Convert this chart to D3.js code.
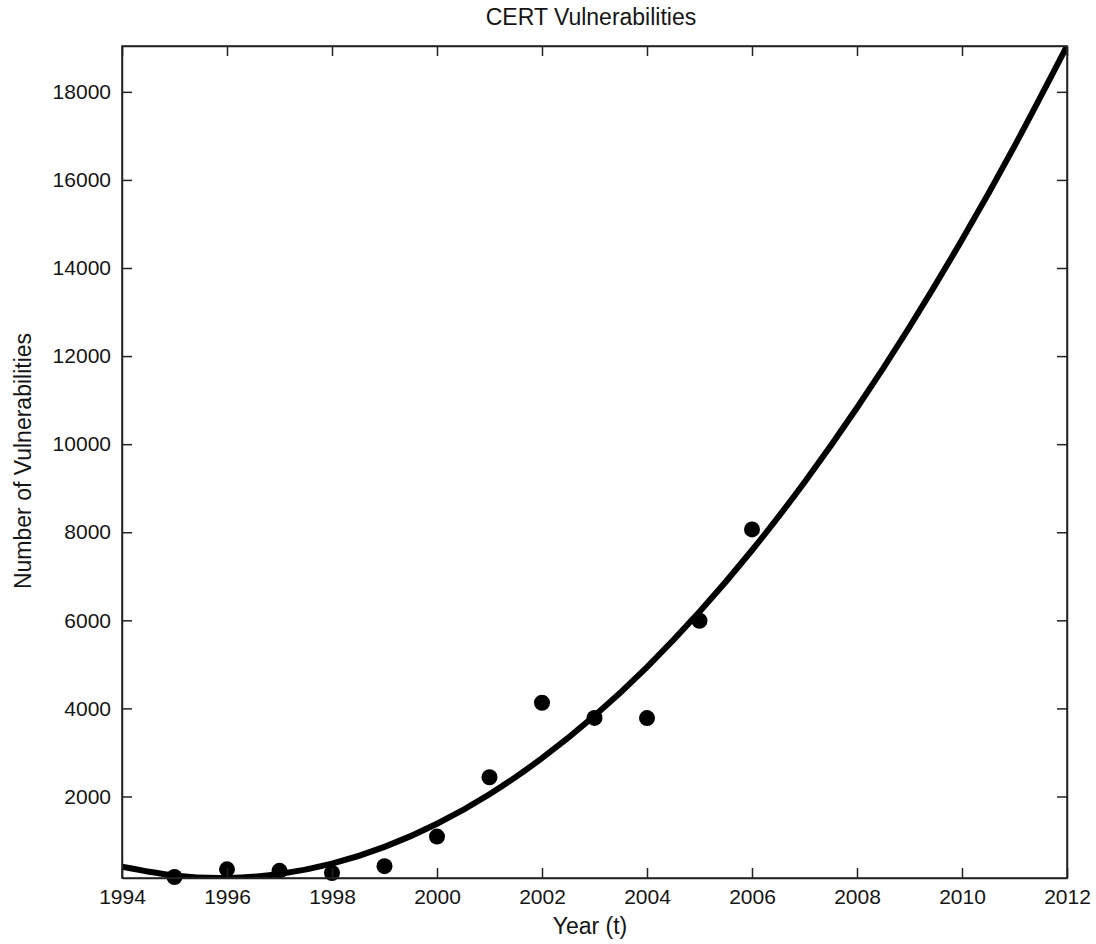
<!DOCTYPE html>
<html>
<head>
<meta charset="utf-8">
<script src="https://cdn.jsdelivr.net/npm/d3@7"></script>
<style>
  body { margin: 0; background: #fff; }
  text { font-family: "Liberation Sans", Arial, sans-serif; fill: #151515; }
</style>
</head>
<body>
<div class="container"></div>
<script>
// CERT vulnerability counts per year
var years = [1995, 1996, 1997, 1998, 1999, 2000, 2001, 2002, 2003, 2004, 2005, 2006];
var counts = [171, 345, 311, 262, 417, 1090, 2437, 4129, 3784, 3780, 5990, 8064];

// fitted curve at each year
var fitYears = [1994, 1995, 1996, 1997, 1998, 1999, 2000, 2001, 2002, 2003,
                2004, 2005, 2006, 2007, 2008, 2009, 2010, 2011, 2012];
var fitValues = [408, 207, 150, 240, 474, 855, 1380, 2052, 2869, 3831,
                 4939, 6192, 7591, 9136, 10826, 12661, 14642, 16769, 19041];

var xTicks = [1994, 1996, 1998, 2000, 2002, 2004, 2006, 2008, 2010, 2012];
var yTicks = [2000, 4000, 6000, 8000, 10000, 12000, 14000, 16000, 18000];

var opts = {width: 1096, height: 944, left: 122, right: 1067, top: 46, bottom: 878};

var svg = d3.select(".container")
    .append("svg")
    .attr("width", opts.width)
    .attr("height", opts.height);

var x = d3.scaleLinear().domain([1994, 2012]).range([opts.left, opts.right]);
var y = d3.scaleLinear().domain([149, 19041]).range([opts.bottom, opts.top]);

// clip to the axes box
svg.append("clipPath").attr("id", "box")
  .append("rect")
    .attr("x", opts.left).attr("y", opts.top)
    .attr("width", opts.right - opts.left)
    .attr("height", opts.bottom - opts.top);

// fitted line
var line = d3.line()
    .x(function(d, i){ return x(fitYears[i]); })
    .y(function(d){ return y(d); })
    .curve(d3.curveNatural);

svg.append("path")
    .datum(fitValues)
    .attr("clip-path", "url(#box)")
    .attr("fill", "none")
    .attr("stroke", "#000")
    .attr("stroke-width", 6)
    .attr("d", line);

// data points
svg.selectAll("circle.pt")
    .data(counts)
  .enter().append("circle")
    .attr("class", "pt")
    .attr("cx", function(d, i){ return x(years[i]); })
    .attr("cy", function(d){ return y(d); })
    .attr("r", 8)
    .attr("fill", "#000");

// axes: ticks pointing inwards on all four sides
var tk = 10;
svg.append("g")
    .attr("transform", "translate(0," + opts.bottom + ")")
    .call(d3.axisBottom(x).tickValues(xTicks).tickFormat(d3.format("d")).tickSizeInner(-tk).tickSizeOuter(0).tickPadding(11));
svg.append("g")
    .attr("transform", "translate(0," + opts.top + ")")
    .call(d3.axisTop(x).tickValues(xTicks).tickFormat("").tickSizeInner(-tk).tickSizeOuter(0));
svg.append("g")
    .attr("transform", "translate(" + opts.left + ",0)")
    .call(d3.axisLeft(y).tickValues(yTicks).tickFormat(d3.format("d")).tickSizeInner(-tk).tickSizeOuter(0).tickPadding(11));
svg.append("g")
    .attr("transform", "translate(" + opts.right + ",0)")
    .call(d3.axisRight(y).tickValues(yTicks).tickFormat("").tickSizeInner(-tk).tickSizeOuter(0));

svg.selectAll(".domain, .tick line").attr("stroke", "#222").attr("stroke-width", 1.5);
svg.selectAll(".tick text")
    .attr("font-size", 21)
    .attr("font-family", "'Liberation Sans', Arial, sans-serif")
    .attr("fill", "#151515");

// box
svg.append("rect")
    .attr("x", opts.left).attr("y", opts.top)
    .attr("width", opts.right - opts.left)
    .attr("height", opts.bottom - opts.top)
    .attr("fill", "none")
    .attr("stroke", "#222")
    .attr("stroke-width", 1.5);

// titles
svg.append("text")
    .attr("x", 591).attr("y", 25)
    .attr("text-anchor", "middle")
    .attr("font-size", 23)
    .text("CERT Vulnerabilities");

svg.append("text")
    .attr("x", 590).attr("y", 934)
    .attr("text-anchor", "middle")
    .attr("font-size", 23)
    .text("Year (t)");

svg.append("text")
    .attr("transform", "translate(31,461) rotate(-90)")
    .attr("text-anchor", "middle")
    .attr("font-size", 23)
    .text("Number of Vulnerabilities");
</script>
</body>
</html>
